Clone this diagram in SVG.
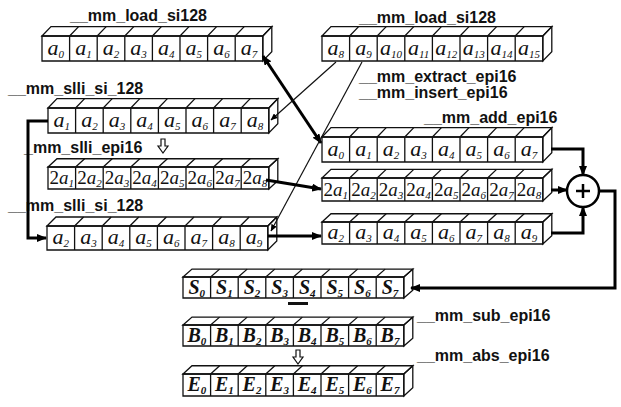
<svg xmlns="http://www.w3.org/2000/svg" xmlns:xlink="http://www.w3.org/1999/xlink" width="621" height="407" viewBox="0 0 621 407">
<style>
.lbl{font-family:"Liberation Sans",Arial,sans-serif;font-size:16px;font-weight:bold;fill:#111;}
.c{font-family:"Liberation Serif","Times New Roman",serif;font-style:italic;font-size:22px;fill:#111;text-anchor:middle;}
.c2{font-size:19px;}
.cb{font-weight:bold;font-size:20px;}
.s{font-size:11px;}
.n{font-style:normal;}
.edge{fill:none;stroke:#111;stroke-width:1.3;vector-effect:non-scaling-stroke;}
.thick{fill:none;stroke:#000;stroke-width:3;}
.thin{fill:none;stroke:#111;stroke-width:1.2;}
</style>
<defs>
<pattern id="hatch" width="3" height="3" patternUnits="userSpaceOnUse">
<rect width="3" height="3" fill="#eee"/><rect width="1.4" height="1.4" fill="#444"/>
</pattern>
<marker id="ah" viewBox="0 0 10 8" refX="9" refY="4" markerWidth="10" markerHeight="8" markerUnits="userSpaceOnUse" orient="auto-start-reverse">
<path d="M0 0L10 4L0 8z" fill="#000"/>
</marker>
<marker id="ahs" viewBox="0 0 7 6" refX="6.5" refY="3" markerWidth="7" markerHeight="6" markerUnits="userSpaceOnUse" orient="auto">
<path d="M0 0L7 3L0 6z" fill="#000"/>
</marker>
<g id="rowbox">
<polygon class="edge" points="0,0 9,-9 229.8,-9 220.8,0" fill="#fff"/>
<polygon class="edge" points="220.8,0 229.8,-9 229.8,15 220.8,24" fill="url(#hatch)"/>
<rect class="edge" x="0" y="0" width="220.8" height="24" fill="#fff"/>
<path class="edge" d="M27.6 0V24M55.2 0V24M82.8 0V24M110.4 0V24M138 0V24M165.6 0V24M193.2 0V24M27.6 0l9 -9M55.2 0l9 -9M82.8 0l9 -9M110.4 0l9 -9M138 0l9 -9M165.6 0l9 -9M193.2 0l9 -9"/>
</g>
</defs>
<rect width="621" height="407" fill="#fff"/>

<g id="labels">
<text class="lbl" x="70" y="21">__mm_load_si128</text>
<text class="lbl" x="359" y="23">__mm_load_si128</text>
<text class="lbl" x="8" y="94">__mm_slli_si_128</text>
<text class="lbl" x="24" y="153">_mm_slli_epi16</text>
<polygon points="161,139 165,139 165,146 168,146 163,153 158,146 161,146" fill="#fff" stroke="#111" stroke-width="1.2"/>
<text class="lbl" x="8" y="211">__mm_slli_si_128</text>
<text class="lbl" x="359" y="82">__mm_extract_epi16</text>
<text class="lbl" x="359" y="98">__mm_insert_epi16</text>
<text class="lbl" x="424" y="123">__mm_add_epi16</text>
<text class="lbl" x="417" y="321">__mm_sub_epi16</text>
<text class="lbl" x="417" y="361">__mm_abs_epi16</text>
<rect x="288" y="302" width="20" height="3" fill="#111"/>
<polygon points="296,350 300,350 300,357 303,357 298,364 293,357 296,357" fill="#fff" stroke="#111" stroke-width="1.2"/>
</g>

<g id="rowA">
<use xlink:href="#rowbox" transform="translate(42,36) scale(1,1.0417)"/>
<text class="c" x="55.8" y="54.5">a<tspan class="s" dy="3">0</tspan></text>
<text class="c" x="83.4" y="54.5">a<tspan class="s" dy="3">1</tspan></text>
<text class="c" x="111" y="54.5">a<tspan class="s" dy="3">2</tspan></text>
<text class="c" x="138.6" y="54.5">a<tspan class="s" dy="3">3</tspan></text>
<text class="c" x="166.2" y="54.5">a<tspan class="s" dy="3">4</tspan></text>
<text class="c" x="193.8" y="54.5">a<tspan class="s" dy="3">5</tspan></text>
<text class="c" x="221.4" y="54.5">a<tspan class="s" dy="3">6</tspan></text>
<text class="c" x="249" y="54.5">a<tspan class="s" dy="3">7</tspan></text>
</g>

<g id="rowB">
<use xlink:href="#rowbox" transform="translate(322,36) scale(1,1.0417)"/>
<text class="c" x="335.8" y="54.5">a<tspan class="s" dy="3">8</tspan></text>
<text class="c" x="363.4" y="54.5">a<tspan class="s" dy="3">9</tspan></text>
<text class="c" x="391" y="54.5">a<tspan class="s" dy="3">10</tspan></text>
<text class="c" x="418.6" y="54.5">a<tspan class="s" dy="3">11</tspan></text>
<text class="c" x="446.2" y="54.5">a<tspan class="s" dy="3">12</tspan></text>
<text class="c" x="473.8" y="54.5">a<tspan class="s" dy="3">13</tspan></text>
<text class="c" x="501.4" y="54.5">a<tspan class="s" dy="3">14</tspan></text>
<text class="c" x="529" y="54.5">a<tspan class="s" dy="3">15</tspan></text>
</g>

<g id="rowC">
<use xlink:href="#rowbox" transform="translate(48,108) scale(1,1.0417)"/>
<text class="c" x="61.8" y="126.5">a<tspan class="s" dy="3">1</tspan></text>
<text class="c" x="89.4" y="126.5">a<tspan class="s" dy="3">2</tspan></text>
<text class="c" x="117" y="126.5">a<tspan class="s" dy="3">3</tspan></text>
<text class="c" x="144.6" y="126.5">a<tspan class="s" dy="3">4</tspan></text>
<text class="c" x="172.2" y="126.5">a<tspan class="s" dy="3">5</tspan></text>
<text class="c" x="199.8" y="126.5">a<tspan class="s" dy="3">6</tspan></text>
<text class="c" x="227.4" y="126.5">a<tspan class="s" dy="3">7</tspan></text>
<text class="c" x="255" y="126.5">a<tspan class="s" dy="3">8</tspan></text>
</g>

<g id="rowD">
<use xlink:href="#rowbox" transform="translate(48,167) scale(1,0.9167)"/>
<text class="c c2" x="61.8" y="184"><tspan class="n">2</tspan>a<tspan class="s" dy="3">1</tspan></text>
<text class="c c2" x="89.4" y="184"><tspan class="n">2</tspan>a<tspan class="s" dy="3">2</tspan></text>
<text class="c c2" x="117" y="184"><tspan class="n">2</tspan>a<tspan class="s" dy="3">3</tspan></text>
<text class="c c2" x="144.6" y="184"><tspan class="n">2</tspan>a<tspan class="s" dy="3">4</tspan></text>
<text class="c c2" x="172.2" y="184"><tspan class="n">2</tspan>a<tspan class="s" dy="3">5</tspan></text>
<text class="c c2" x="199.8" y="184"><tspan class="n">2</tspan>a<tspan class="s" dy="3">6</tspan></text>
<text class="c c2" x="227.4" y="184"><tspan class="n">2</tspan>a<tspan class="s" dy="3">7</tspan></text>
<text class="c c2" x="255" y="184"><tspan class="n">2</tspan>a<tspan class="s" dy="3">8</tspan></text>
</g>

<g id="rowE">
<use xlink:href="#rowbox" transform="translate(47,226)"/>
<text class="c" x="60.8" y="244">a<tspan class="s" dy="3">2</tspan></text>
<text class="c" x="88.4" y="244">a<tspan class="s" dy="3">3</tspan></text>
<text class="c" x="116" y="244">a<tspan class="s" dy="3">4</tspan></text>
<text class="c" x="143.6" y="244">a<tspan class="s" dy="3">5</tspan></text>
<text class="c" x="171.2" y="244">a<tspan class="s" dy="3">6</tspan></text>
<text class="c" x="198.8" y="244">a<tspan class="s" dy="3">7</tspan></text>
<text class="c" x="226.4" y="244">a<tspan class="s" dy="3">8</tspan></text>
<text class="c" x="254" y="244">a<tspan class="s" dy="3">9</tspan></text>
</g>

<g id="rowF">
<use xlink:href="#rowbox" transform="translate(322,137) scale(1,1.0417)"/>
<text class="c" x="335.8" y="155.5">a<tspan class="s" dy="3">0</tspan></text>
<text class="c" x="363.4" y="155.5">a<tspan class="s" dy="3">1</tspan></text>
<text class="c" x="391" y="155.5">a<tspan class="s" dy="3">2</tspan></text>
<text class="c" x="418.6" y="155.5">a<tspan class="s" dy="3">3</tspan></text>
<text class="c" x="446.2" y="155.5">a<tspan class="s" dy="3">4</tspan></text>
<text class="c" x="473.8" y="155.5">a<tspan class="s" dy="3">5</tspan></text>
<text class="c" x="501.4" y="155.5">a<tspan class="s" dy="3">6</tspan></text>
<text class="c" x="529" y="155.5">a<tspan class="s" dy="3">7</tspan></text>
</g>

<g id="rowG">
<use xlink:href="#rowbox" transform="translate(322,178) scale(1,0.9583)"/>
<text class="c c2" x="335.8" y="195.5"><tspan class="n">2</tspan>a<tspan class="s" dy="3">1</tspan></text>
<text class="c c2" x="363.4" y="195.5"><tspan class="n">2</tspan>a<tspan class="s" dy="3">2</tspan></text>
<text class="c c2" x="391" y="195.5"><tspan class="n">2</tspan>a<tspan class="s" dy="3">3</tspan></text>
<text class="c c2" x="418.6" y="195.5"><tspan class="n">2</tspan>a<tspan class="s" dy="3">4</tspan></text>
<text class="c c2" x="446.2" y="195.5"><tspan class="n">2</tspan>a<tspan class="s" dy="3">5</tspan></text>
<text class="c c2" x="473.8" y="195.5"><tspan class="n">2</tspan>a<tspan class="s" dy="3">6</tspan></text>
<text class="c c2" x="501.4" y="195.5"><tspan class="n">2</tspan>a<tspan class="s" dy="3">7</tspan></text>
<text class="c c2" x="529" y="195.5"><tspan class="n">2</tspan>a<tspan class="s" dy="3">8</tspan></text>
</g>

<g id="rowH">
<use xlink:href="#rowbox" transform="translate(322,222) scale(1,0.9167)"/>
<text class="c" x="335.8" y="239">a<tspan class="s" dy="3">2</tspan></text>
<text class="c" x="363.4" y="239">a<tspan class="s" dy="3">3</tspan></text>
<text class="c" x="391" y="239">a<tspan class="s" dy="3">4</tspan></text>
<text class="c" x="418.6" y="239">a<tspan class="s" dy="3">5</tspan></text>
<text class="c" x="446.2" y="239">a<tspan class="s" dy="3">6</tspan></text>
<text class="c" x="473.8" y="239">a<tspan class="s" dy="3">7</tspan></text>
<text class="c" x="501.4" y="239">a<tspan class="s" dy="3">8</tspan></text>
<text class="c" x="529" y="239">a<tspan class="s" dy="3">9</tspan></text>
</g>

<g id="rowS">
<use xlink:href="#rowbox" transform="translate(183,277) scale(1,0.875)"/>
<text class="c cb" x="196.8" y="293.5">S<tspan class="s" dy="3">0</tspan></text>
<text class="c cb" x="224.4" y="293.5">S<tspan class="s" dy="3">1</tspan></text>
<text class="c cb" x="252" y="293.5">S<tspan class="s" dy="3">2</tspan></text>
<text class="c cb" x="279.6" y="293.5">S<tspan class="s" dy="3">3</tspan></text>
<text class="c cb" x="307.2" y="293.5">S<tspan class="s" dy="3">4</tspan></text>
<text class="c cb" x="334.8" y="293.5">S<tspan class="s" dy="3">5</tspan></text>
<text class="c cb" x="362.4" y="293.5">S<tspan class="s" dy="3">6</tspan></text>
<text class="c cb" x="390" y="293.5">S<tspan class="s" dy="3">7</tspan></text>
</g>

<g id="rowBB">
<use xlink:href="#rowbox" transform="translate(183,325) scale(1,0.875)"/>
<text class="c cb" x="196.8" y="341.5">B<tspan class="s" dy="3">0</tspan></text>
<text class="c cb" x="224.4" y="341.5">B<tspan class="s" dy="3">1</tspan></text>
<text class="c cb" x="252" y="341.5">B<tspan class="s" dy="3">2</tspan></text>
<text class="c cb" x="279.6" y="341.5">B<tspan class="s" dy="3">3</tspan></text>
<text class="c cb" x="307.2" y="341.5">B<tspan class="s" dy="3">4</tspan></text>
<text class="c cb" x="334.8" y="341.5">B<tspan class="s" dy="3">5</tspan></text>
<text class="c cb" x="362.4" y="341.5">B<tspan class="s" dy="3">6</tspan></text>
<text class="c cb" x="390" y="341.5">B<tspan class="s" dy="3">7</tspan></text>
</g>

<g id="rowEE">
<use xlink:href="#rowbox" transform="translate(183,374) scale(1,0.9167)"/>
<text class="c cb" x="196.8" y="391">E<tspan class="s" dy="3">0</tspan></text>
<text class="c cb" x="224.4" y="391">E<tspan class="s" dy="3">1</tspan></text>
<text class="c cb" x="252" y="391">E<tspan class="s" dy="3">2</tspan></text>
<text class="c cb" x="279.6" y="391">E<tspan class="s" dy="3">3</tspan></text>
<text class="c cb" x="307.2" y="391">E<tspan class="s" dy="3">4</tspan></text>
<text class="c cb" x="334.8" y="391">E<tspan class="s" dy="3">5</tspan></text>
<text class="c cb" x="362.4" y="391">E<tspan class="s" dy="3">6</tspan></text>
<text class="c cb" x="390" y="391">E<tspan class="s" dy="3">7</tspan></text>
</g>

<g id="plus">
<circle cx="583" cy="191" r="16" fill="#fff" stroke="#000" stroke-width="2.5"/>
<path d="M576 191H590M583 184V198" stroke="#000" stroke-width="2.5"/>
</g>

<g id="connectors">
<path class="thick" d="M48 121H28V238H46" marker-end="url(#ah)"/>
<path class="thick" d="M263 56L321 143" marker-start="url(#ah)" marker-end="url(#ah)"/>
<path class="thin" d="M336 62L271 120" marker-end="url(#ahs)"/>
<path class="thin" d="M362 62L271 231" marker-end="url(#ahs)"/>
<path class="thick" d="M266 180L321 189" marker-end="url(#ah)"/>
<path class="thick" d="M268 236H321" marker-end="url(#ah)"/>
<path class="thick" d="M551 149H583V175" marker-end="url(#ah)"/>
<path class="thick" d="M551 190H567" marker-end="url(#ah)"/>
<path class="thick" d="M551 233H583V207" marker-end="url(#ah)"/>
<path class="thick" d="M599 191H615V288H411" marker-end="url(#ah)"/>
</g>
</svg>
